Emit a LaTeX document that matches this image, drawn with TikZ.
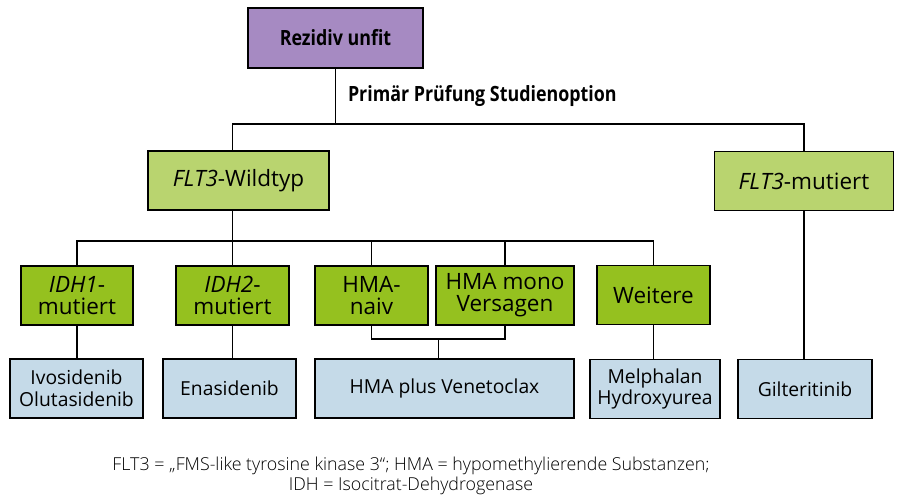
\documentclass[tikz,border=0pt]{standalone}
\usepackage{fontspec}
\setmainfont{Open Sans}
\newfontfamily\lightfont{Open Sans Light}
\newfontfamily\condfont{Open Sans}[FakeStretch=0.85]
\usepackage{tikz}

\definecolor{rezpurple}{HTML}{A68AC2}
\definecolor{flightgreen}{HTML}{B9D46F}
\definecolor{subgreen}{HTML}{95C11F}
\definecolor{therblue}{HTML}{C5DAE8}

\begin{document}
\begin{tikzpicture}[
        x=1pt, y=-1pt,
        line width=1.4pt,
        box/.style={draw, line width=1.6pt, rectangle, inner sep=0pt, minimum height=59pt, align=center},
        groupbox/.style={box, fill=flightgreen, font=\fontsize{22.5}{23}\selectfont},
        subbox/.style={box, fill=subgreen, font=\fontsize{22.5}{22}\selectfont},
        therbox/.style={box, fill=therblue, font=\fontsize{19.3}{21.5}\selectfont}
        ]
    \useasboundingbox (0,0) rectangle (898,497);

    % Define top node
    \node[box, fill=rezpurple, minimum width=175pt, minimum height=60pt, font=\condfont\bfseries\fontsize{21}{22}\selectfont] (top) at (335.5, 38) {Rezidiv unfit};
    \node[anchor=west, font=\condfont\bfseries\fontsize{21}{22}\selectfont] (study) at (344, 96) {Primär Prüfung Studienoption};

    % Define FLT3 nodes
    \node[groupbox, minimum width=181pt] (wild) at (238.5, 180.5) {\textit{FLT3}-Wildtyp};
    \node[groupbox, minimum width=179pt] (mut) at (804, 181) {\textit{FLT3}-mutiert};

    % Define subgroup nodes
    \node[subbox, minimum width=112pt] (idh1) at (77, 295.5) {\textit{IDH1}-\\mutiert};
    \node[subbox, minimum width=113pt] (idh2) at (232.5, 295.5) {\textit{IDH2}-\\mutiert};
    \node[subbox, minimum width=113pt] (naiv) at (371.5, 295.5) {HMA-\\naiv};
    \node[subbox, minimum width=138pt] (mono) at (505, 295.5) {HMA mono\\Versagen};
    \node[subbox, minimum width=113pt] (weit) at (653.5, 295) {Weitere};

    % Define therapy nodes
    \node[therbox, minimum width=133pt] (ivo) at (76.5, 388.5) {Ivosidenib\\Olutasidenib};
    \node[therbox, minimum width=133pt] (ena) at (229.5, 388.5) {Enasidenib};
    \node[therbox, minimum width=259pt] (ven) at (444.5, 388.5) {HMA plus Venetoclax};
    \node[therbox, minimum width=130pt] (mel) at (655, 389) {Melphalan\\Hydroxyurea};
    \node[therbox, minimum width=134pt] (gil) at (805, 389) {Gilteritinib};

    % Define footnote
    \node[align=center, font=\lightfont\fontsize{17.8}{20}\selectfont] (note) at (411, 476)
        {FLT3 = „FMS-like tyrosine kinase 3“; HMA = hypomethylierende Substanzen;\\IDH = Isocitrat-Dehydrogenase};

    % Define bus points
    \coordinate (b1) at (335.5, 124);
    \coordinate (b2) at (232.5, 241);
    \coordinate (b3) at (438.5, 339);

    % Draw edges from top to FLT3 nodes
    \draw (top) -- (b1);
    \draw (wild.north -| idh2.north) |- (b1) -| (mut.north);

    % Draw edges from FLT3-Wildtyp to subgroups
    \draw (wild.south -| idh2.north) -- (idh2.north);
    \draw (idh1.north) |- (b2) -| (weit.north);
    \draw (naiv.north) -- (naiv.north |- b2);
    \draw (mono.north) -- (mono.north |- b2);

    % Draw edges from subgroups to therapies
    \draw (idh1.south) -- (idh1.south |- ivo.north);
    \draw (idh2.south) -- (idh2.south |- ena.north);
    \draw (naiv.south) |- (b3) -| (mono.south);
    \draw (b3) -- (b3 |- ven.north);
    \draw (weit.south) -- (weit.south |- mel.north);
    \draw (mut.south) -- (mut.south |- gil.north);

\end{tikzpicture}
\end{document}
